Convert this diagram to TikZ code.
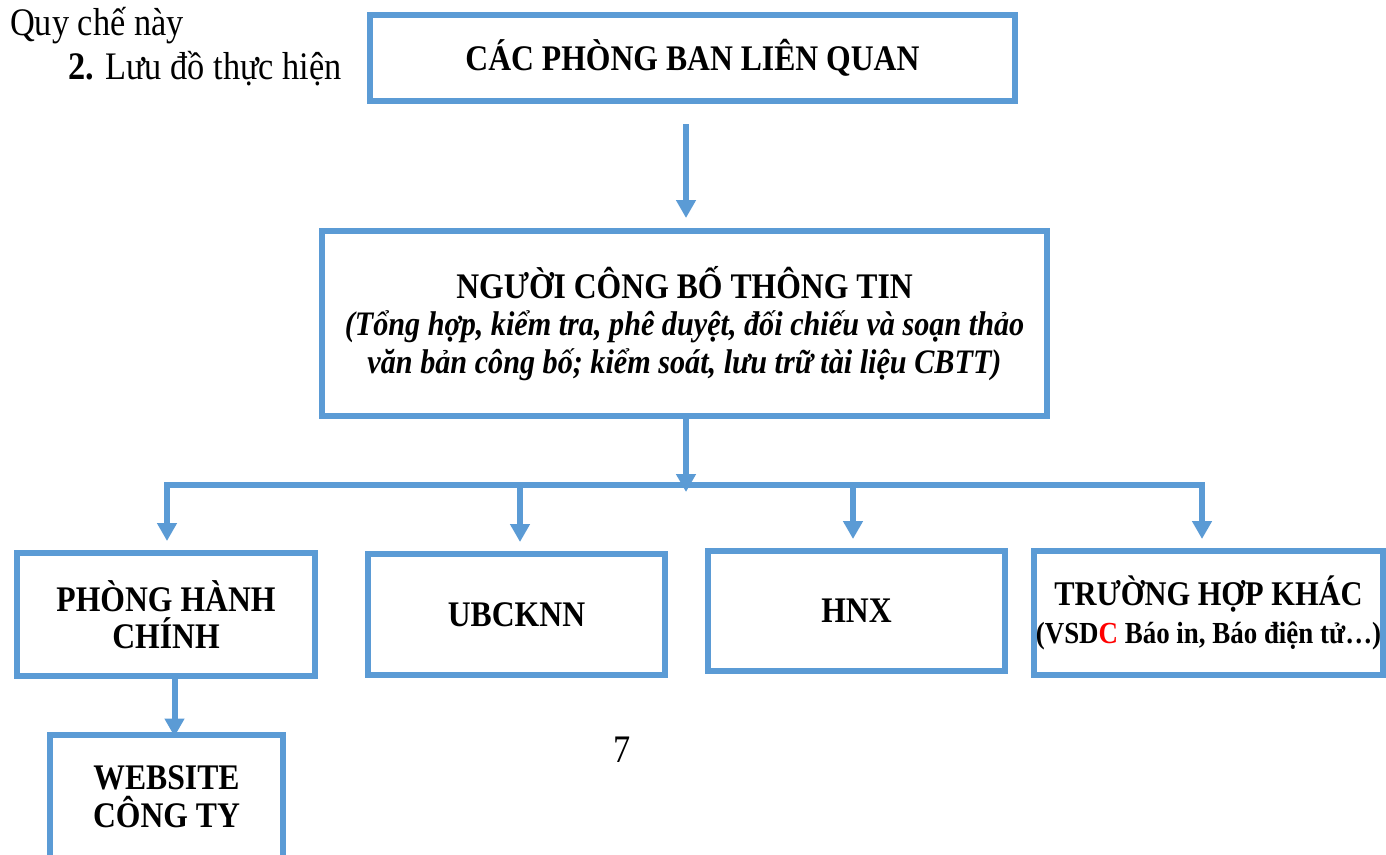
\documentclass[tikz,border=0pt]{standalone}
\usepackage{fontspec}
\setmainfont{Liberation Serif}[FakeStretch=0.88]
\usetikzlibrary{arrows.meta}
\definecolor{wblue}{RGB}{91,155,213}
\tikzset{
  box/.style={draw=wblue, line width=6pt, fill=white, align=center, inner sep=0pt,
    font=\bfseries\fontsize{36}{37.5}\selectfont},
  conn/.style={draw=wblue, line width=6pt},
  arr/.style={conn, -{Triangle[length=18pt,width=19pt]}},
  plain/.style={inner sep=0pt, font=\fontsize{39}{42}\selectfont},
}
\begin{document}
\begin{tikzpicture}[x=1pt,y=-1pt]
\useasboundingbox (0,0) rectangle (1386,854);
\fill[white] (0,0) rectangle (1386,854);

\node[plain, anchor=base west] (t1) at (10,35) {Quy chế này};
\node[plain, anchor=base west] (t2) at (68,79) {\textbf{2.} Lưu đồ thực hiện};

\node[box, minimum width=645pt, minimum height=86pt] (b1) at (692.5,58) {CÁC PHÒNG BAN LIÊN QUAN};
\node[box, minimum width=725pt, minimum height=184.5pt] (b2) at (684.5,323.25)
  {NGƯỜI CÔNG BỐ THÔNG TIN\\ {\fontsize{34.3}{37.5}\selectfont\itshape (Tổng hợp, kiểm tra, phê duyệt, đối chiếu và soạn thảo}\\ {\fontsize{34.3}{37.5}\selectfont\itshape văn bản công bố; kiểm soát, lưu trữ tài liệu CBTT)}};

\node[box, minimum width=298pt, minimum height=123pt] (b3) at (166,614.5) {PHÒNG HÀNH\\CHÍNH};
\node[box, minimum width=297pt, minimum height=121pt] (b4) at (516.5,614.5) {UBCKNN};
\node[box, minimum width=297pt, minimum height=120pt] (b5) at (856.5,611) {HNX};
\node[box, minimum width=349pt, minimum height=124pt] (b6) at (1208.5,613)
  {\fontsize{34.6}{37.5}\selectfont TRƯỜNG HỢP KHÁC\\ {\fontsize{30.6}{34}\selectfont (VSD\textcolor{red}{C} Báo in, Báo điện tử…)}};
\node[box, minimum width=233pt, minimum height=124pt] (b7) at (166.5,796.5) {WEBSITE\\CÔNG TY};

\node[plain] (pg) at (622,750) {7};

% connectors
\coordinate (bus) at (686,485);
\draw[arr, shorten <=20pt, shorten >=10pt] ([xshift=-6.5pt]b1.south) -- ([xshift=1.5pt]b2.north);
\draw[arr] ([xshift=1.5pt]b2.south) -- ([yshift=-7pt]bus);
\draw[arr, shorten >=9pt] (bus) -| ([xshift=1pt]b3.north);
\draw[arr, shorten >=9pt] (bus) -| ([xshift=3.5pt]b4.north);
\draw[arr, shorten >=9pt] (bus) -| ([xshift=-3.5pt]b5.north);
\draw[arr, shorten >=9pt] (bus) -| ([xshift=-6.5pt]b6.north);
\draw[arr, shorten >=-5pt] ([xshift=8.5pt]b3.south) -- ([xshift=8.5pt]b3.south |- b7.north);
\end{tikzpicture}
\end{document}
